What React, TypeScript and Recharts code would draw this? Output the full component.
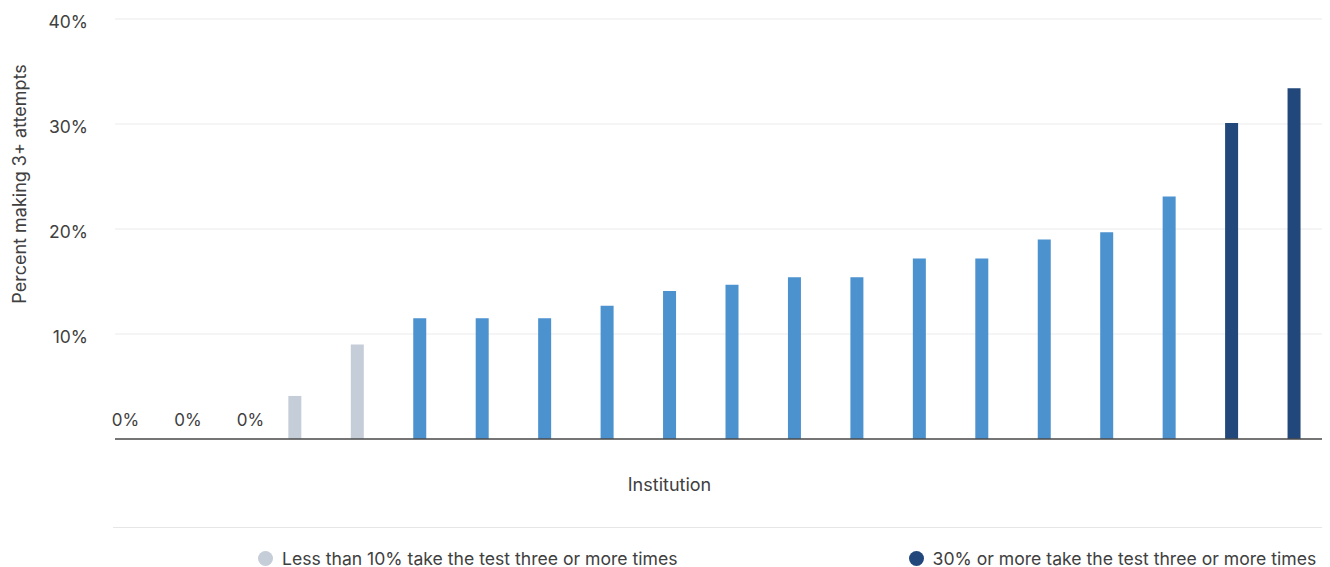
import { BarChart, Bar, XAxis, YAxis, CartesianGrid, Cell, LabelList, Legend, Label } from "recharts";

const institutions = [
  "Inst 1", "Inst 2", "Inst 3", "Inst 4", "Inst 5", "Inst 6", "Inst 7", "Inst 8", "Inst 9", "Inst 10",
  "Inst 11", "Inst 12", "Inst 13", "Inst 14", "Inst 15", "Inst 16", "Inst 17", "Inst 18", "Inst 19", "Inst 20",
];
const pctThreePlus = [0, 0, 0, 4.1, 9.0, 11.5, 11.5, 11.5, 12.7, 14.1, 14.7, 15.4, 15.4, 17.2, 17.2, 19.0, 19.7, 23.1, 30.1, 33.4];
const yTicks = [10, 20, 30, 40];

const legendItems = [
  { label: "Less than 10% take the test three or more times", color: "#c5cdd9" },
  { label: "30% or more take the test three or more times", color: "#22477a" },
];
const MID_COLOR = "#4b92cf";

const FONT = "Inter, 'Noto Sans', sans-serif";
const TEXT = "#404040";

const data = institutions.map((name, i) => ({ name, pct: pctThreePlus[i] }));

function barColor(v: number) {
  if (v === 0) return "transparent";
  if (v < 10) return legendItems[0].color;
  if (v >= 30) return legendItems[1].color;
  return MID_COLOR;
}

// only the zero bars get a label in the original
function ZeroLabel(props: any) {
  const { x, y, width, value } = props;
  if (Number(value) !== 0 || x == null) return null;
  return (
    <text x={Number(x) + Number(width) / 2 + 18} y={Number(y) - 12} textAnchor="middle" fontSize={17} fill={TEXT} fontFamily={FONT}>
      0%
    </text>
  );
}

function ChartLegend() {
  return (
    <div
      style={{
        marginLeft: 113,
        height: 40,
        boxSizing: "border-box",
        borderTop: "1px solid #e6e6e6",
        display: "flex",
        alignItems: "center",
        paddingLeft: 145,
        gap: 231,
        paddingTop: 22,
        fontFamily: FONT,
        fontSize: 17.6,
        lineHeight: 1,
        color: TEXT,
      }}
    >
      {legendItems.map((it) => (
        <div key={it.label} style={{ display: "flex", alignItems: "center", whiteSpace: "nowrap" }}>
          <span
            style={{
              width: 15,
              height: 15,
              borderRadius: "50%",
              background: it.color,
              marginRight: 9,
              display: "inline-block",
              flexShrink: 0,
            }}
          />
          {it.label}
        </div>
      ))}
    </div>
  );
}

export default function App() {
  return (
    <div style={{ width: 1330, height: 567, marginLeft: -8, marginTop: -8, background: "#fff" }}>
      <BarChart width={1330} height={567} data={data} margin={{ top: 19, right: 0, bottom: 0, left: 0 }}>
        <CartesianGrid vertical={false} stroke="#ebebeb" />
        <XAxis
          dataKey="name"
          tick={false}
          tickLine={false}
          height={88}
          padding={{ left: -39, right: 5 }}
          axisLine={{ stroke: "#4a4a4a", strokeWidth: 1.5 }}
        >
          <Label
            content={({ viewBox }: any) => (
              <text
                x={viewBox.x + viewBox.width / 2 - 53}
                y={viewBox.y + 52}
                textAnchor="middle"
                fontSize={18}
                fill={TEXT}
                fontFamily={FONT}
              >
                Institution
              </text>
            )}
          />
        </XAxis>
        <YAxis
          width={115}
          domain={[0, 40]}
          ticks={yTicks}
          tickFormatter={(v) => `${v}%`}
          tickLine={false}
          axisLine={false}
          tickSize={0}
          tickMargin={27}
          tick={{ fontSize: 17.5, fill: TEXT, fontFamily: FONT, dy: 3 }}
        >
          <Label
            content={({ viewBox }: any) => {
              const cx = viewBox.x + 19;
              const cy = viewBox.y + viewBox.height / 2 - 45;
              return (
                <text
                  x={cx}
                  y={cy}
                  transform={`rotate(-90, ${cx}, ${cy})`}
                  textAnchor="middle"
                  dominantBaseline="central"
                  fontSize={18}
                  fill={TEXT}
                  fontFamily={FONT}
                >
                  Percent making 3+ attempts
                </text>
              );
            }}
          />
        </YAxis>
        <Legend
          verticalAlign="bottom"
          content={<ChartLegend />}
          wrapperStyle={{ left: 0, width: 1330, bottom: 0 }}
        />
        {/* zero bars get a 1px invisible stub so their labels still render */}
        <Bar
          dataKey="pct"
          barSize={13}
          minPointSize={(v: number) => (v === 0 ? 1 : 0)}
          isAnimationActive={false}
        >
          {data.map((d) => (
            <Cell key={d.name} fill={barColor(d.pct)} />
          ))}
          <LabelList dataKey="pct" content={(p: any) => <ZeroLabel {...p} />} />
        </Bar>
      </BarChart>
    </div>
  );
}
